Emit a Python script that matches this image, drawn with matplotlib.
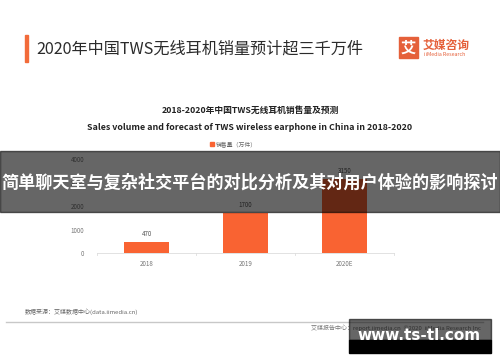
#!/usr/bin/env python3
import matplotlib
matplotlib.use("Agg")
import matplotlib.pyplot as plt
from matplotlib.patches import Rectangle

plt.rcParams['font.family'] = ['Noto Sans CJK SC', 'DejaVu Sans']

years = ["2018", "2019", "2020E"]
sales = [470, 1700, 3150]
yticks = [0, 1000, 2000, 3000, 4000]

ORANGE = "#f96332"
W, H = 500, 362


def fx(px):
    return px / W


def fy(py):
    return 1 - py / H


fig = plt.figure(figsize=(5, 3.62), dpi=100)
fig.patch.set_facecolor("white")

# header
fig.patches.append(Rectangle((fx(25), fy(62)), 3 / W, 27 / H, transform=fig.transFigure,
                             color="#f26b3a", zorder=2))
fig.text(fx(36), fy(49), "2020年中国TWS无线耳机销量预计超三千万件", fontsize=11.6,
         color="#2b2b2b", va="center", ha="left")

# logo
fig.patches.append(Rectangle((fx(399), fy(58)), 19 / W, 21 / H, transform=fig.transFigure,
                             color="#e5603a", zorder=2))
fig.text(fx(408.5), fy(47.5), "艾", fontsize=11, color="white", weight="bold",
         ha="center", va="center")
fig.text(fx(423), fy(45), "艾媒咨询", fontsize=8.5, color="#e5603a", weight="bold",
         ha="left", va="center")
fig.text(fx(424), fy(54.5), "iiMedia Research", fontsize=3.8, color="#e5603a",
         ha="left", va="center")

# chart titles
fig.text(0.5, fy(110), "2018-2020年中国TWS无线耳机销售量及预测", fontsize=6.3,
         color="#222222", weight="bold", ha="center", va="center")
fig.text(0.5, fy(127), "Sales volume and forecast of TWS wireless earphone in China in 2018-2020",
         fontsize=6.4, color="#222222", weight="bold", ha="center", va="center")

# legend
fig.patches.append(Rectangle((fx(210), fy(146)), 4 / W, 4 / H, transform=fig.transFigure,
                             color=ORANGE))
fig.text(fx(216), fy(144), "销售量（万件）", fontsize=4.2, color="#666666",
         ha="left", va="center")

# axes
ax = fig.add_axes([fx(97), fy(253), 297 / W, 94 / H])
x = range(len(years))
bars = ax.bar(x, sales, width=0.455, color=ORANGE, zorder=2)
for xi, v in zip(x, sales):
    ax.text(xi, v + 180, str(v), ha="center", va="bottom", fontsize=4.5, color="#555555")
ax.set_xlim(-0.5, len(years) - 0.5)
ax.set_ylim(0, 4000)
ax.set_yticks(yticks)
ax.set_yticklabels([str(t) for t in yticks])
ax.set_xticks(list(x))
ax.set_xticklabels(years)
ax.tick_params(axis="y", length=0, labelsize=4.5, labelcolor="#777777", pad=9)
ax.tick_params(axis="x", length=0, labelsize=4.5, labelcolor="#777777", pad=5)
for xb in [-0.5, 0.5, 1.5, 2.5]:
    ax.plot([xb, xb], [0, -70], color="#dddddd", lw=0.6, clip_on=False)
for s in ["top", "right", "left"]:
    ax.spines[s].set_visible(False)
ax.spines["bottom"].set_color("#dddddd")
ax.spines["bottom"].set_linewidth(0.6)
ax.patch.set_alpha(0)

# footer
fig.text(fx(25), fy(312), "数据来源：艾媒数据中心(data.iimedia.cn)", fontsize=4.3,
         color="#666666", ha="left", va="center")
fig.lines.append(plt.Line2D([fx(6), fx(483)], [fy(322), fy(322)], transform=fig.transFigure,
                            color="#c8c8c8", lw=1.0))
fig.text(fx(481), fy(327.5), "艾媒报告中心：report.iimedia.cn  ©2020  iiMedia Research Inc",
         fontsize=4.3, color="#777777", ha="right", va="center")

# overlay banner
fig.patches.append(Rectangle((0, fy(212)), 1, 61 / H, transform=fig.transFigure,
                             color="black", alpha=0.6, zorder=5))
fig.text(0.5, fy(183), "简单聊天室与复杂社交平台的对比分析及其对用户体验的影响探讨",
         fontsize=12.3, color="white", weight="bold", ha="center", va="center", zorder=6)

# watermark
fig.patches.append(Rectangle((fx(349), fy(340)), 142 / W, 21 / H, transform=fig.transFigure,
                             color="black", alpha=0.6, zorder=5))
fig.patches.append(Rectangle((fx(349), fy(353)), 142 / W, 13 / H, transform=fig.transFigure,
                             color="black", zorder=5))
fig.text(fx(419), fy(335.5), "www.ts-tl.com", fontsize=11, color="white", weight="bold",
         ha="center", va="center", family="DejaVu Sans", zorder=6)

fig.savefig("out.png", dpi=100)
